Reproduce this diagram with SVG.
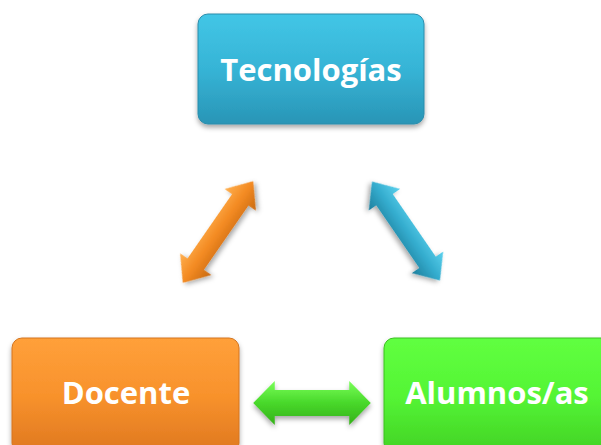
<svg xmlns="http://www.w3.org/2000/svg" width="601" height="445" viewBox="0 0 601 445">
<defs>
<linearGradient id="gBlue" x1="0" y1="0" x2="0" y2="1"><stop offset="0" stop-color="#42c6e6"/><stop offset="0.5" stop-color="#36b4d6"/><stop offset="1" stop-color="#2995b6"/></linearGradient>
<linearGradient id="gOrange" x1="0" y1="0" x2="0" y2="1"><stop offset="0" stop-color="#ffa03a"/><stop offset="0.5" stop-color="#f8922c"/><stop offset="1" stop-color="#df7820"/></linearGradient>
<linearGradient id="gGreen" x1="0" y1="0" x2="0" y2="1"><stop offset="0" stop-color="#60ff40"/><stop offset="0.5" stop-color="#55f535"/><stop offset="1" stop-color="#42d225"/></linearGradient>
<linearGradient id="aOrange" x1="0" y1="0" x2="0" y2="1"><stop offset="0" stop-color="#ffb050"/><stop offset="0.5" stop-color="#f38a22"/><stop offset="1" stop-color="#c86a12"/></linearGradient>
<linearGradient id="aBlue" x1="0" y1="0" x2="0" y2="1"><stop offset="0" stop-color="#5cd2ee"/><stop offset="0.5" stop-color="#33abcd"/><stop offset="1" stop-color="#1f7f9c"/></linearGradient>
<linearGradient id="aGreen" x1="0" y1="0" x2="0" y2="1"><stop offset="0" stop-color="#7aff5a"/><stop offset="0.5" stop-color="#48d82a"/><stop offset="1" stop-color="#35b01a"/></linearGradient>
<filter id="sh" x="-20%" y="-20%" width="140%" height="150%"><feDropShadow dx="0" dy="3" stdDeviation="2.5" flood-color="#000" flood-opacity="0.35"/></filter>
<polygon id="dbl" points="-60,0 -38,-19 -38,-10 38,-10 38,-19 60,0 38,19 38,10 -38,10 -38,19"/>
<polygon id="dblg" points="-60,0 -38,-22 -38,-13 38,-13 38,-22 60,0 38,22 38,13 -38,13 -38,22"/>
</defs>
<style>
.lbl{font-family:"Open Sans","DejaVu Sans",sans-serif;font-weight:bold;font-size:31px;fill:#fff;text-anchor:middle}
.box{stroke-width:1}
</style>
<g id="connectors">
<use href="#dbl" fill="url(#aOrange)" filter="url(#sh)" transform="translate(218,232) rotate(-55.3) scale(1.03,1.0)"/>
<use href="#dbl" fill="url(#aBlue)" filter="url(#sh)" transform="translate(406,231) rotate(55.5) scale(1.0,1.0)"/>
<use href="#dblg" fill="url(#aGreen)" filter="url(#sh)" transform="translate(312,403) scale(0.98,1)"/>
</g>
<g id="tecnologias">
<rect class="box" x="198" y="14" width="226" height="110" rx="10" fill="url(#gBlue)" stroke="#2a8cab" filter="url(#sh)"/>
<text class="lbl" x="311" y="81">Tecnologías</text>
</g>
<g id="docente">
<rect class="box" x="12" y="338" width="227" height="115" rx="10" fill="url(#gOrange)" stroke="#d4741e" filter="url(#sh)"/>
<text class="lbl" x="126" y="404">Docente</text>
</g>
<g id="alumnos">
<rect class="box" x="384" y="338" width="230" height="115" rx="10" fill="url(#gGreen)" stroke="#3cc020" filter="url(#sh)"/>
<text class="lbl" x="497" y="404">Alumnos/as</text>
</g>
</svg>
